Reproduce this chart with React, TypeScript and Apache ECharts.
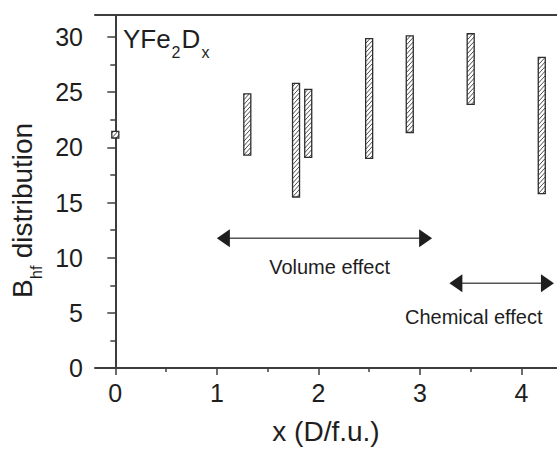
import React, { useEffect, useRef } from "react";
import * as echarts from "echarts";

// Hyperfine-field distribution ranges (floating bars)
const xValues = [0, 1.3, 1.78, 1.9, 2.5, 2.9, 3.5, 4.2];
const bhfLow = [20.85, 19.3, 15.5, 19.1, 19.0, 21.35, 23.9, 15.8];
const bhfHigh = [21.45, 24.85, 25.8, 25.25, 29.85, 30.1, 30.3, 28.15];

// Double-headed arrows
const arrowFrom = [1.0, 3.29];
const arrowTo = [3.12, 4.32];
const arrowY = [11.76, 7.68];

// Annotation texts
const annotationText = ["Volume effect", "Chemical effect"];
const annotationX = [2.11, 3.53];
const annotationY = [9.18, 4.62];

// Ticks
const xMajorTicks = [0, 1, 2, 3, 4];
const xMinorTicks = [0.5, 1.5, 2.5, 3.5];
const yMajorTicks = [0, 5, 10, 15, 20, 25, 30];
const yMinorTicks = [2.5, 7.5, 12.5, 17.5, 22.5, 27.5];

const FONT = "'Liberation Sans', Arial, Helvetica, sans-serif";
const AXIS_COLOR = "#3d3d3d";
const TEXT_COLOR = "#1e1e1e";

export default function App() {
  const ref = useRef<HTMLDivElement | null>(null);

  useEffect(() => {
    if (!ref.current) return;
    const chart = echarts.init(ref.current, undefined, { renderer: "svg" });

    const barData = xValues.map((x, i) => [x, bhfLow[i], bhfHigh[i]]);
    const arrowData = arrowFrom.map((a, i) => [a, arrowTo[i], arrowY[i]]);
    const textData = annotationX.map((x, i) => [x, annotationY[i]]);

    const xMin = -0.2;
    const xMax = 4.35;

    const option: any = {
      animation: false,
      grid: { left: 95, top: 15, right: 0, bottom: 82, show: false, containLabel: false, outerBoundsMode: "none" },
      xAxis: [
        {
          type: "value",
          min: xMin,
          max: xMax,
          position: "bottom",
          axisLine: { show: true, lineStyle: { color: AXIS_COLOR, width: 2 } },
          axisTick: {
            show: true,
            customValues: xMajorTicks,
            length: 7,
            lineStyle: { color: AXIS_COLOR, width: 1.5 },
          },
          axisLabel: {
            customValues: xMajorTicks,
            fontSize: 25,
            margin: 12,
            color: TEXT_COLOR,
            fontFamily: FONT,
          },
          splitLine: { show: false },
          name: "x (D/f.u.)",
          nameLocation: "middle",
          nameGap: 49,
          nameTextStyle: { fontSize: 28, color: TEXT_COLOR, fontFamily: FONT },
        },
        {
          type: "value",
          min: xMin,
          max: xMax,
          position: "bottom",
          axisLine: { show: false },
          axisTick: {
            show: true,
            customValues: xMinorTicks,
            length: 4,
            lineStyle: { color: AXIS_COLOR, width: 1.5 },
          },
          axisLabel: { show: false },
          splitLine: { show: false },
        },
        {
          type: "value",
          min: xMin,
          max: xMax,
          position: "top",
          axisLine: { show: true, lineStyle: { color: AXIS_COLOR, width: 2 } },
          axisTick: { show: false },
          axisLabel: { show: false },
          splitLine: { show: false },
        },
      ],
      yAxis: [
        {
          type: "value",
          min: 0,
          max: 32,
          position: "left",
          axisLine: { show: true, lineStyle: { color: AXIS_COLOR, width: 2 } },
          axisTick: {
            show: true,
            customValues: yMajorTicks,
            length: 8,
            lineStyle: { color: AXIS_COLOR, width: 1.5 },
          },
          axisLabel: {
            customValues: yMajorTicks,
            fontSize: 25,
            margin: 12,
            color: TEXT_COLOR,
            fontFamily: FONT,
          },
          splitLine: { show: false },
        },
        {
          type: "value",
          min: 0,
          max: 32,
          position: "left",
          axisLine: { show: false },
          axisTick: {
            show: true,
            customValues: yMinorTicks,
            length: 5,
            lineStyle: { color: AXIS_COLOR, width: 1.5 },
          },
          axisLabel: { show: false },
          splitLine: { show: false },
        },
      ],
      graphic: [
        {
          type: "group",
          x: 123,
          y: 38.5,
          children: [
            {
              type: "text",
              x: 0,
              y: 0,
              style: { text: "YFe", fontSize: 26, fill: TEXT_COLOR, fontFamily: FONT, align: "left", verticalAlign: "middle" },
            },
            {
              type: "text",
              x: 48.5,
              y: 14,
              style: { text: "2", fontSize: 16, fill: TEXT_COLOR, fontFamily: FONT, align: "left", verticalAlign: "middle" },
            },
            {
              type: "text",
              x: 58.5,
              y: 0,
              style: { text: "D", fontSize: 26, fill: TEXT_COLOR, fontFamily: FONT, align: "left", verticalAlign: "middle" },
            },
            {
              type: "text",
              x: 78.5,
              y: 14,
              style: { text: "x", fontSize: 16, fill: TEXT_COLOR, fontFamily: FONT, align: "left", verticalAlign: "middle" },
            },
          ],
        },
        {
          type: "group",
          x: 22.5,
          y: 298,
          rotation: Math.PI / 2,
          children: [
            {
              type: "text",
              x: 0,
              y: 0,
              style: { text: "B", fontSize: 28, fill: TEXT_COLOR, fontFamily: FONT, align: "left", verticalAlign: "middle" },
            },
            {
              type: "text",
              x: 19,
              y: 14,
              style: { text: "hf", fontSize: 16, fill: TEXT_COLOR, fontFamily: FONT, align: "left", verticalAlign: "middle" },
            },
            {
              type: "text",
              x: 32,
              y: 0,
              style: { text: " distribution", fontSize: 28, fill: TEXT_COLOR, fontFamily: FONT, align: "left", verticalAlign: "middle" },
            },
          ],
        },
      ],
      series: [
        {
          type: "custom",
          xAxisIndex: 0,
          yAxisIndex: 0,
          clip: false,
          data: barData,
          renderItem: (params: any, api: any) => {
            const x = api.value(0);
            const lo = api.value(1);
            const hi = api.value(2);
            const pTop = api.coord([x, hi]);
            const pBot = api.coord([x, lo]);
            const w = 7;
            const left = pTop[0] - w / 2;
            const top = pTop[1];
            const bottom = pBot[1];
            const h = bottom - top;
            const k = 1.1;
            const s = 4.6;
            const children: any[] = [
              {
                type: "rect",
                shape: { x: left, y: top, width: w, height: h },
                style: { fill: "#ffffff", stroke: "none" },
              },
            ];
            const nMin = -Math.ceil((k * w) / s) - 1;
            const nMax = Math.ceil(h / s) + 1;
            for (let n = nMin; n <= nMax; n++) {
              const c = bottom - n * s;
              const xs = Math.max(0, (c - bottom) / k);
              const xe = Math.min(w, (c - top) / k);
              if (xe - xs > 0.3) {
                children.push({
                  type: "line",
                  shape: {
                    x1: left + xs,
                    y1: c - k * xs,
                    x2: left + xe,
                    y2: c - k * xe,
                  },
                  style: { stroke: "#3a3a3a", lineWidth: 0.9 },
                });
              }
            }
            children.push({
              type: "rect",
              shape: { x: left, y: top, width: w, height: h },
              style: { fill: "none", stroke: "#2e2e2e", lineWidth: 1.3 },
            });
            return { type: "group", children };
          },
        },
        {
          type: "custom",
          xAxisIndex: 0,
          yAxisIndex: 0,
          clip: false,
          data: arrowData,
          renderItem: (params: any, api: any) => {
            const p1 = api.coord([api.value(0), api.value(2)]);
            const p2 = api.coord([api.value(1), api.value(2)]);
            const hl = 13;
            const hw = 9;
            const y = p1[1];
            return {
              type: "group",
              children: [
                {
                  type: "line",
                  shape: { x1: p1[0] + hl - 1, y1: y, x2: p2[0] - hl + 1, y2: y },
                  style: { stroke: "#555555", lineWidth: 1.5 },
                },
                {
                  type: "polygon",
                  shape: { points: [[p1[0], y], [p1[0] + hl, y - hw], [p1[0] + hl, y + hw]] },
                  style: { fill: "#1e1e1e" },
                },
                {
                  type: "polygon",
                  shape: { points: [[p2[0], y], [p2[0] - hl, y - hw], [p2[0] - hl, y + hw]] },
                  style: { fill: "#1e1e1e" },
                },
              ],
            };
          },
        },
        {
          type: "custom",
          xAxisIndex: 0,
          yAxisIndex: 0,
          clip: false,
          data: textData,
          renderItem: (params: any, api: any) => {
            const p = api.coord([api.value(0), api.value(1)]);
            return {
              type: "text",
              x: p[0],
              y: p[1],
              style: {
                text: annotationText[params.dataIndex],
                fontSize: 20,
                fill: TEXT_COLOR,
                fontFamily: FONT,
                align: "center",
                verticalAlign: "middle",
              },
            };
          },
        },
      ],
    };

    chart.setOption(option);
    return () => {
      chart.dispose();
    };
  }, []);

  return (
    <div
      ref={ref}
      style={{ position: "fixed", left: 0, top: 0, width: 557, height: 450, background: "#ffffff" }}
    />
  );
}
